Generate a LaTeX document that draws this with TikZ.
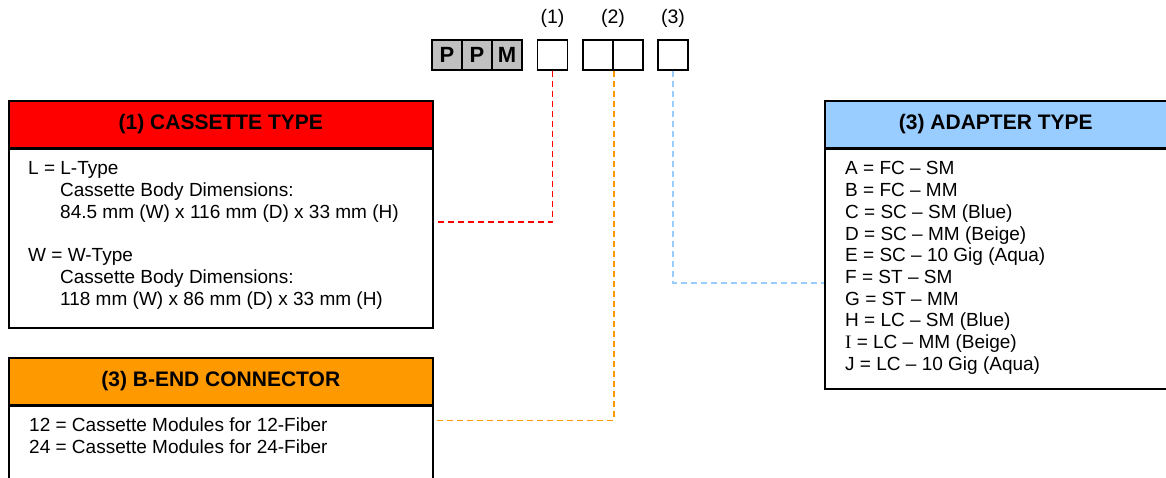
\documentclass[tikz,border=0pt]{standalone}
\usepackage{fontspec}
\setmainfont{Liberation Sans}
\newfontfamily\serifI{Liberation Serif}
\usepackage{xcolor}
\usetikzlibrary{positioning}
\tikzset{>=latex}

\definecolor{hdrred}{HTML}{FF0000}
\definecolor{hdrorange}{HTML}{FF9900}
\definecolor{hdrblue}{HTML}{99CCFF}
\definecolor{cellgray}{HTML}{C0C0C0}

\tikzset{
  cell/.style={draw, line width=1.5pt, minimum size=30pt, inner sep=0pt, font=\fontsize{22}{24}\selectfont\bfseries},
  head/.style={draw, line width=1.6pt, anchor=north west, minimum height=47pt, inner sep=0pt, font=\fontsize{21}{24}\selectfont\bfseries},
  body/.style={draw, line width=1.6pt, anchor=north west, fill=white, inner sep=0pt},
  txt/.style={anchor=north west, inner sep=0pt, align=left, font=\fontsize{19}{21.8}\selectfont},
  poslabel/.style={font=\fontsize{19.5}{22}\selectfont},
  link/.style={line width=1.5pt, dash pattern=on 6pt off 4pt}
}

\begin{document}
\begin{tikzpicture}[x=1pt, y=-1pt]
\useasboundingbox (0,0) rectangle (1166,478);

% Part number cells
\node[cell, fill=cellgray] (p1) at (447,55) {P};
\node[cell, fill=cellgray] (p2) at (477,55) {P};
\node[cell, fill=cellgray] (m) at (507,55) {M};
\node[cell] (c1) at (552.5,55) {};
\node[cell] (c2a) at (598,55) {};
\node[cell] (c2b) at (628,55) {};
\node[cell] (c3) at (673,55) {};

% Position labels
\node[poslabel] (n1) at (552.5,18) {(1)};
\node[poslabel] (n2) at (613,18) {(2)};
\node[poslabel] (n3) at (673,18) {(3)};

% Cassette type
\node[body, minimum width=424pt, minimum height=180pt] (casBody) at (8,147) {};
\node[head, fill=hdrred, minimum width=424pt] (casHead) at (8,100) {(1) CASSETTE TYPE};
\draw[line width=3pt] (casHead.south west) -- (casHead.south east);
\node[txt] (casText) at (28,161.5) {L = L-Type\\
\hspace*{32pt}Cassette Body Dimensions:\\
\hspace*{32pt}84.5 mm (W) x 116 mm (D) x 33 mm (H)\\
\mbox{}\\
W = W-Type\\
\hspace*{32pt}Cassette Body Dimensions:\\
\hspace*{32pt}118 mm (W) x 86 mm (D) x 33 mm (H)};

% B-end connector
\node[body, minimum width=424pt, minimum height=90pt] (bendBody) at (8,403) {};
\node[head, fill=hdrorange, minimum width=424pt] (bendHead) at (8,357) {(3) B-END CONNECTOR};
\draw[line width=3pt] (bendHead.south west) -- (bendHead.south east);
\node[txt] (bendText) at (29,418) {12 = Cassette Modules for 12-Fiber\\
24 = Cassette Modules for 24-Fiber};

% Adapter type
\node[body, minimum width=350pt, minimum height=241pt] (adBody) at (824,147) {};
\node[head, fill=hdrblue, minimum width=350pt] (adHead) at (824,100) {\hspace*{-8pt}(3) ADAPTER TYPE};
\draw[line width=3pt] (adHead.south west) -- (adHead.south east);
\node[txt, font=\fontsize{19}{21.7}\selectfont] (adText) at (845,161.5) {A = FC -- SM\\
B = FC -- MM\\
C = SC -- SM (Blue)\\
D = SC -- MM (Beige)\\
E = SC -- 10 Gig (Aqua)\\
F = ST -- SM\\
G = ST -- MM\\
H = LC -- SM (Blue)\\
{\serifI I} = LC -- MM (Beige)\\
J = LC -- 10 Gig (Aqua)};

% Leader lines
\draw[link, hdrred] (c1.south) |- ([yshift=16pt]casBody.east);
\draw[link, hdrorange] (c2a.south east) |- ([yshift=28.5pt]bendBody.east);
\draw[link, hdrblue] (c3.south) |- ([yshift=-14.5pt]adBody.west);

\end{tikzpicture}
\end{document}
